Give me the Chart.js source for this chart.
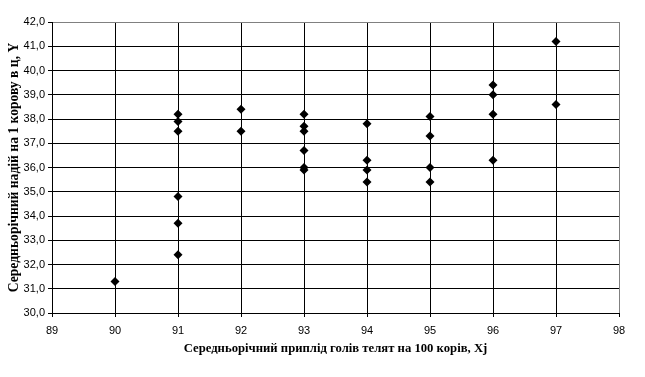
<!DOCTYPE html>
<html>
<head>
<meta charset="utf-8">
<script src="https://cdn.jsdelivr.net/npm/chart.js@4"></script>
<style>
  html, body { margin: 0; padding: 0; background: #fff; }
  #wrap { width: 645px; height: 377px; }
</style>
</head>
<body>
<div id="wrap"><canvas id="myChart" width="645" height="377"></canvas></div>
<script>
// calves per 100 cows (Xj) and milk yield per cow, centners (Y)
let calves = [90, 91, 91, 91, 91, 91, 91, 92, 92, 93, 93, 93, 93, 93, 93,
              94, 94, 94, 94, 95, 95, 95, 95, 96, 96, 96, 96, 97, 97]
let yields = [31.3, 38.2, 37.9, 37.5, 34.8, 33.7, 32.4, 38.4, 37.5, 38.2, 37.7, 37.5, 36.7, 36.0, 35.9,
              37.8, 36.3, 35.9, 35.4, 38.1, 37.3, 36.0, 35.4, 39.4, 39.0, 38.2, 36.3, 41.2, 38.6]
let xTitle = "Середньорічний приплід голів телят на 100 корів, Xj"
let yTitle = "Середньорічний надій на 1 корову в ц, Y"

let pts = []
for (let i = 0; i < calves.length; i++) {
  pts.push({ x: calves[i], y: yields[i] })
}

let tickFont = { family: "'Liberation Sans', Arial, sans-serif", size: 11 }
let serif = "'Liberation Serif', 'Times New Roman', serif"

let ctx = document.getElementById('myChart').getContext('2d')
let myChart = new Chart(ctx, {
  type: 'scatter',
  data: {
    datasets: [{
      data: pts,
      pointStyle: 'rectRot',
      pointRadius: 4.5,
      pointHoverRadius: 4.5,
      backgroundColor: '#000',
      borderColor: '#000',
      borderWidth: 0
    }]
  },
  options: {
    responsive: false,
    animation: false,
    layout: { padding: { left: 6, top: 22, right: 26, bottom: 21 } },
    plugins: { legend: { display: false }, tooltip: { enabled: false } },
    scales: {
      x: {
        type: 'linear',
        min: 89, max: 98,
        ticks: { stepSize: 1, color: '#000', font: tickFont, padding: 7, maxRotation: 0 },
        grid: {
          color: c => c.tick && c.tick.value === 98 ? '#808080' : '#000',
          tickColor: '#000',
          tickLength: 4,
          lineWidth: 1
        },
        border: { color: '#000' },
        title: { display: true, text: xTitle, color: '#000', font: { family: serif, size: 12.7, weight: 'bold' }, padding: { top: 4, bottom: 0 } },
        afterFit: s => { s.height = 43 }
      },
      y: {
        min: 30, max: 42,
        ticks: {
          stepSize: 1, color: '#000', font: tickFont, padding: 3,
          callback: v => v.toFixed(1).replace('.', ',')
        },
        grid: {
          color: c => c.tick && c.tick.value === 42 ? '#808080' : '#000',
          tickColor: '#000',
          tickLength: 4,
          lineWidth: 1
        },
        border: { color: '#000' },
        title: { display: true, text: yTitle, color: '#000', font: { family: serif, size: 13.6, weight: 'bold' }, padding: { top: 0, bottom: 0 } },
        afterFit: s => { s.width = 46 }
      }
    }
  }
})
</script>
</body>
</html>
